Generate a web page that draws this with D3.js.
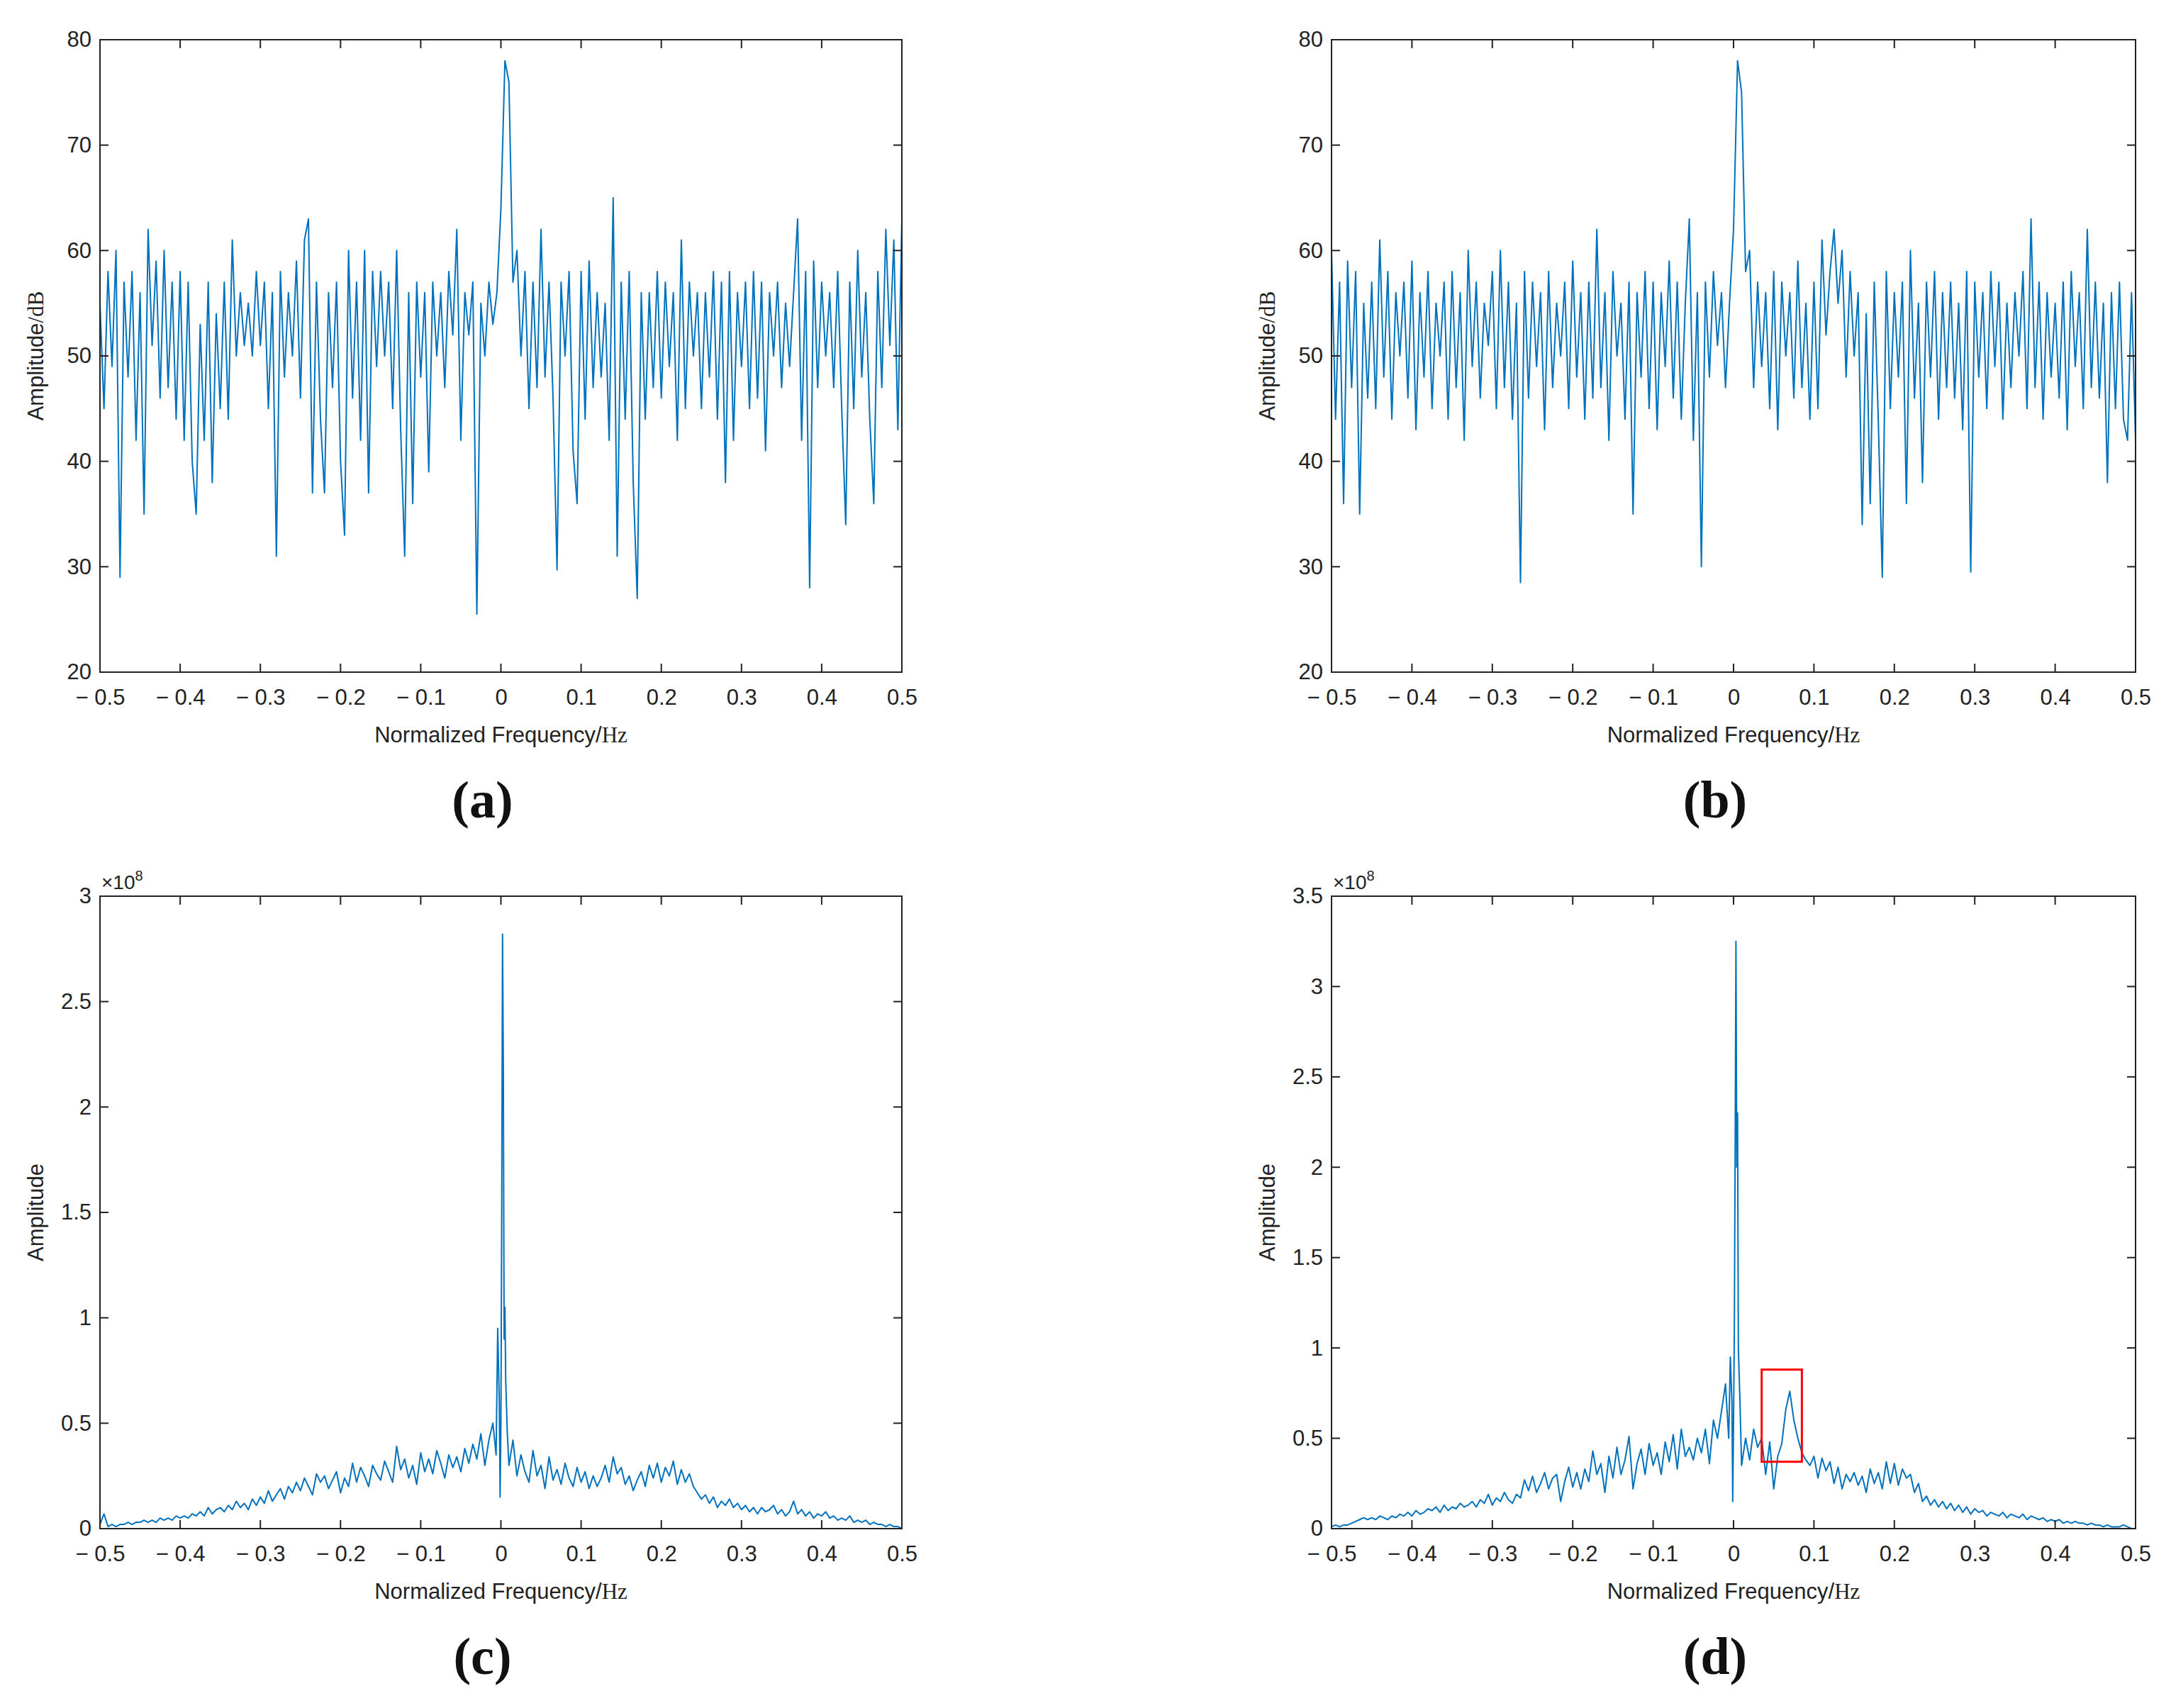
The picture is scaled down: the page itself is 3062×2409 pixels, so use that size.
<!DOCTYPE html>
<html>
<head>
<meta charset="utf-8">
<script src="https://cdn.jsdelivr.net/npm/d3@7"></script>
<style>
  body { margin: 0; background: #fff; }
  svg { display: block; }
</style>
</head>
<body>
<div id="chart"></div>
<script>
// dB spectra (a), (b): sampled every 0.005 from -0.5 to 0.5
var dbA = [55,45,58,49,60,29,57,48,58,42,56,35,62,51,59,46,60,47,57,44,
  58,42,57,40,35,53,42,57,38,54,45,57,44,61,50,56,51,55,50,58,
  51,57,45,56,31,58,48,56,50,59,46,61,63,37,57,44,37,56,47,57,
  40,33,60,46,57,42,60,37,58,49,58,50,57,45,60,43,31,56,36,57,
  48,56,39,57,50,56,47,58,52,62,42,56,52,57,25.5,55,50,57,53,56,
  64,78,76,57,60,50,58,45,57,47,62,48,57,46,29.7,57,50,58,41,36,
  58,44,59,47,56,48,55,42,65,31,57,44,58,38,27,56,44,56,47,58,
  46,57,49,56,42,61,45,57,50,56,45,56,48,58,44,57,38,58,42,56,
  49,57,45,58,46,57,41,56,50,57,47,55,49,56,63,42,58,28,59,47,
  57,50,56,47,58,45,34,57,45,60,48,56,44,36,58,47,62,51,61,43,63];

var dbB = [60,44,57,36,59,47,58,35,55,46,57,45,61,48,58,44,56,50,57,46,
  59,43,56,48,58,45,55,50,57,44,58,47,56,42,60,49,57,46,55,51,
  58,45,60,47,57,44,55,28.5,58,46,57,49,56,43,58,47,55,50,57,45,
  59,48,56,44,57,46,62,47,56,42,58,50,55,44,57,35,56,48,58,45,
  57,43,56,49,59,46,57,44,55,63,42,56,30,57,48,58,51,56,47,55,
  62,78,75,58,60,47,57,49,56,45,58,43,57,50,56,46,59,47,55,44,
  57,45,61,52,58,62,55,60,48,58,50,56,34,54,36,57,44,29,58,45,
  56,48,57,36,60,46,55,38,57,48,58,44,56,47,57,46,55,43,58,29.5,
  57,48,56,45,58,49,57,44,55,47,56,50,58,45,63,47,57,44,56,48,
  55,46,57,43,58,49,56,45,62,47,57,46,55,38,56,45,57,44,42,56,42];

// linear spectra (c), (d), units of 1e8: left side from -0.5 step 0.005,
// centre samples at freqCenter, right side ending at 0.5 step 0.005
var freqCenter = [-0.015,-0.01,-0.006,-0.004,-0.002,-0.001,0,0.001,0.002,0.003,0.004,0.005,0.006,0.008,0.01,0.015,0.02];

var ampCLeft = [0.02,0.07,0.01,0.02,0.01,0.02,0.02,0.03,0.02,0.03,
  0.03,0.04,0.03,0.04,0.03,0.05,0.04,0.05,0.04,0.06,
  0.05,0.06,0.05,0.07,0.06,0.08,0.06,0.1,0.07,0.09,
  0.1,0.08,0.11,0.09,0.13,0.1,0.12,0.09,0.14,0.11,
  0.15,0.12,0.18,0.13,0.16,0.19,0.14,0.2,0.17,0.22,
  0.18,0.24,0.2,0.16,0.26,0.22,0.25,0.19,0.23,0.27,
  0.17,0.24,0.2,0.31,0.22,0.29,0.25,0.2,0.3,0.26,
  0.23,0.32,0.27,0.22,0.39,0.28,0.33,0.24,0.3,0.21,
  0.36,0.27,0.33,0.26,0.37,0.31,0.24,0.35,0.29,0.34,
  0.27,0.38,0.31,0.4,0.33,0.45,0.3];
var ampCCenter = [0.42,0.5,0.35,0.95,0.6,0.15,0.5,1.5,2.82,2.2,0.9,1.05,0.7,0.45,0.3,0.42,0.25];
var ampCRight = [0.35,0.27,0.22,0.37,0.25,0.3,0.19,0.34,0.23,0.28,
  0.21,0.31,0.24,0.2,0.29,0.22,0.27,0.19,0.25,0.2,
  0.24,0.3,0.22,0.34,0.26,0.29,0.21,0.25,0.18,0.23,
  0.27,0.2,0.3,0.24,0.31,0.22,0.29,0.25,0.32,0.21,
  0.28,0.22,0.26,0.2,0.17,0.14,0.16,0.12,0.15,0.1,
  0.13,0.11,0.14,0.1,0.12,0.09,0.11,0.08,0.1,0.07,
  0.1,0.08,0.09,0.11,0.07,0.09,0.06,0.08,0.13,0.07,
  0.09,0.06,0.08,0.05,0.07,0.06,0.08,0.05,0.06,0.04,
  0.05,0.04,0.06,0.03,0.04,0.03,0.04,0.02,0.03,0.02,
  0.02,0.01,0.02,0.01,0.01,0.0];

var ampDLeft = [0.01,0.02,0.01,0.02,0.02,0.03,0.04,0.05,0.06,0.05,
  0.06,0.05,0.07,0.06,0.05,0.07,0.06,0.08,0.07,0.09,
  0.07,0.1,0.08,0.09,0.11,0.1,0.12,0.09,0.13,0.1,
  0.12,0.11,0.14,0.12,0.13,0.15,0.12,0.16,0.14,0.19,
  0.13,0.17,0.15,0.2,0.16,0.14,0.19,0.17,0.27,0.21,
  0.29,0.2,0.25,0.31,0.22,0.28,0.3,0.15,0.26,0.34,
  0.23,0.31,0.22,0.33,0.26,0.43,0.3,0.36,0.2,0.4,
  0.28,0.45,0.3,0.38,0.51,0.22,0.36,0.44,0.3,0.47,
  0.35,0.42,0.3,0.48,0.37,0.52,0.33,0.55,0.4,0.45,
  0.38,0.5,0.42,0.55,0.36,0.6,0.5];
var ampDCenter = [0.65,0.8,0.5,0.95,0.7,0.15,0.6,1.1,2.1,3.25,2.0,2.3,1.0,0.7,0.35,0.5,0.38];
var ampDRight = [0.55,0.45,0.5,0.3,0.48,0.22,0.4,0.47,0.66,0.76,
  0.6,0.5,0.42,0.38,0.35,0.4,0.28,0.39,0.32,0.37,
  0.25,0.34,0.22,0.3,0.26,0.31,0.24,0.29,0.2,0.33,
  0.25,0.31,0.22,0.37,0.25,0.36,0.24,0.33,0.28,0.3,
  0.2,0.25,0.15,0.18,0.13,0.16,0.12,0.15,0.11,0.14,
  0.1,0.13,0.09,0.12,0.08,0.11,0.09,0.1,0.07,0.09,
  0.08,0.07,0.09,0.06,0.08,0.07,0.06,0.08,0.05,0.07,
  0.06,0.05,0.06,0.04,0.05,0.04,0.05,0.03,0.04,0.03,
  0.04,0.03,0.03,0.02,0.03,0.02,0.02,0.01,0.02,0.01,
  0.01,0.01,0.02,0.01,0.0,0.0];

var xTicks = [-0.5,-0.4,-0.3,-0.2,-0.1,0,0.1,0.2,0.3,0.4,0.5];
var dbTicks = [20,30,40,50,60,70,80];
var ampTicksC = [0,0.5,1,1.5,2,2.5,3];
var ampTicksD = [0,0.5,1,1.5,2,2.5,3,3.5];
var boxD = {x0: 0.035, x1: 0.085, y0: 0.37, y1: 0.88};

var W = 3062, H = 2409;
var blue = "#0072BD";
var svg = d3.select("#chart").append("svg").attr("width", W).attr("height", H);

function uniform(vals) {
  return vals.map(function(v, i) { return [-0.5 + i / (vals.length - 1), v]; });
}
function joined(left, center, right) {
  var pts = left.map(function(v, i) { return [-0.5 + i * 0.005, v]; });
  center.forEach(function(v, i) { pts.push([freqCenter[i], v]); });
  right.forEach(function(v, i) { pts.push([0.5 - (right.length - 1 - i) * 0.005, v]); });
  return pts;
}
function fmtX(d) {
  if (d === 0) return "0";
  return (d < 0 ? "\u2212 " : "") + Math.abs(d);
}

function panel(o) {
  var x = d3.scaleLinear().domain([-0.5, 0.5]).range([o.l, o.r]);
  var y = d3.scaleLinear().domain(o.yDomain).range([o.b, o.t]);
  var g = svg.append("g");

  g.append("path").datum(o.points)
    .attr("fill", "none").attr("stroke", blue).attr("stroke-width", 2)
    .attr("stroke-linejoin", "round")
    .attr("d", d3.line().x(function(d) { return x(d[0]); }).y(function(d) { return y(d[1]); }));

  if (o.box) {
    g.append("rect")
      .attr("x", x(o.box.x0)).attr("y", y(o.box.y1))
      .attr("width", x(o.box.x1) - x(o.box.x0)).attr("height", y(o.box.y0) - y(o.box.y1))
      .attr("fill", "none").attr("stroke", "#ff0000").attr("stroke-width", 3);
  }

  var fontT = "'Liberation Sans', Arial, sans-serif";
  g.append("g").attr("transform", "translate(0," + o.b + ")")
    .call(d3.axisBottom(x).tickValues(xTicks).tickSize(0).tickPadding(24).tickFormat(fmtX))
    .call(function(s) { s.select(".domain").remove(); })
    .selectAll("text").attr("font-size", 31).attr("font-family", fontT).attr("fill", "#222");
  g.append("g").attr("transform", "translate(" + o.l + ",0)")
    .call(d3.axisLeft(y).tickValues(o.yTicks).tickSize(0).tickPadding(12).tickFormat(d3.format("~g")))
    .call(function(s) { s.select(".domain").remove(); })
    .selectAll("text").attr("font-size", 31).attr("font-family", fontT).attr("fill", "#222");

  // inward ticks on all four sides
  var tl = 12;
  xTicks.forEach(function(t) {
    g.append("line").attr("x1", x(t)).attr("x2", x(t)).attr("y1", o.b).attr("y2", o.b - tl).attr("stroke", "#222").attr("stroke-width", 2);
    g.append("line").attr("x1", x(t)).attr("x2", x(t)).attr("y1", o.t).attr("y2", o.t + tl).attr("stroke", "#222").attr("stroke-width", 2);
  });
  o.yTicks.forEach(function(t) {
    g.append("line").attr("x1", o.l).attr("x2", o.l + tl).attr("y1", y(t)).attr("y2", y(t)).attr("stroke", "#222").attr("stroke-width", 2);
    g.append("line").attr("x1", o.r).attr("x2", o.r - tl).attr("y1", y(t)).attr("y2", y(t)).attr("stroke", "#222").attr("stroke-width", 2);
  });
  g.append("rect").attr("x", o.l).attr("y", o.t).attr("width", o.r - o.l).attr("height", o.b - o.t)
    .attr("fill", "none").attr("stroke", "#222").attr("stroke-width", 2);

  var cx = (o.l + o.r) / 2;
  var xl = g.append("text").attr("x", cx).attr("y", o.b + 99).attr("text-anchor", "middle")
    .attr("font-size", 31).attr("font-family", fontT).attr("fill", "#222");
  xl.append("tspan").text("Normalized Frequency/");
  xl.append("tspan").attr("font-family", "'Liberation Serif', 'Times New Roman', serif").text("Hz");

  var yl = g.append("text").attr("transform", "translate(" + (o.l - 80) + "," + ((o.t + o.b) / 2) + ") rotate(-90)")
    .attr("text-anchor", "middle").attr("font-size", 31).attr("font-family", fontT).attr("fill", "#222");
  yl.append("tspan").text(o.yLabel);
  if (o.dB) yl.append("tspan").attr("font-family", "'Liberation Serif', serif").text("/dB");

  if (o.exp) {
    var ex = g.append("text").attr("x", o.l + 2).attr("y", o.t - 10)
      .attr("font-size", 28).attr("font-family", fontT).attr("fill", "#222");
    ex.append("tspan").text("\u00d710");
    ex.append("tspan").attr("dy", -12).attr("font-size", 20).text("8");
  }

  g.append("text").attr("x", cx - 26).attr("y", o.b + 205).attr("text-anchor", "middle")
    .attr("font-size", 74).attr("font-weight", "bold")
    .attr("font-family", "'Liberation Serif', 'Times New Roman', serif").attr("fill", "#111")
    .text(o.tag);
}

var colL = [141, 1272], colR = [1878, 3012], rowT = [56, 948], rowB = [1264, 2156];

panel({l: colL[0], r: colL[1], t: rowT[0], b: rowT[1], yDomain: [20, 80], yTicks: dbTicks,
  points: uniform(dbA), yLabel: "Amplitude", dB: true, tag: "(a)"});
panel({l: colR[0], r: colR[1], t: rowT[0], b: rowT[1], yDomain: [20, 80], yTicks: dbTicks,
  points: uniform(dbB), yLabel: "Amplitude", dB: true, tag: "(b)"});
panel({l: colL[0], r: colL[1], t: rowB[0], b: rowB[1], yDomain: [0, 3], yTicks: ampTicksC,
  points: joined(ampCLeft, ampCCenter, ampCRight), yLabel: "Amplitude", exp: true, tag: "(c)"});
panel({l: colR[0], r: colR[1], t: rowB[0], b: rowB[1], yDomain: [0, 3.5], yTicks: ampTicksD,
  points: joined(ampDLeft, ampDCenter, ampDRight), yLabel: "Amplitude", exp: true, tag: "(d)", box: boxD});
</script>
</body>
</html>
